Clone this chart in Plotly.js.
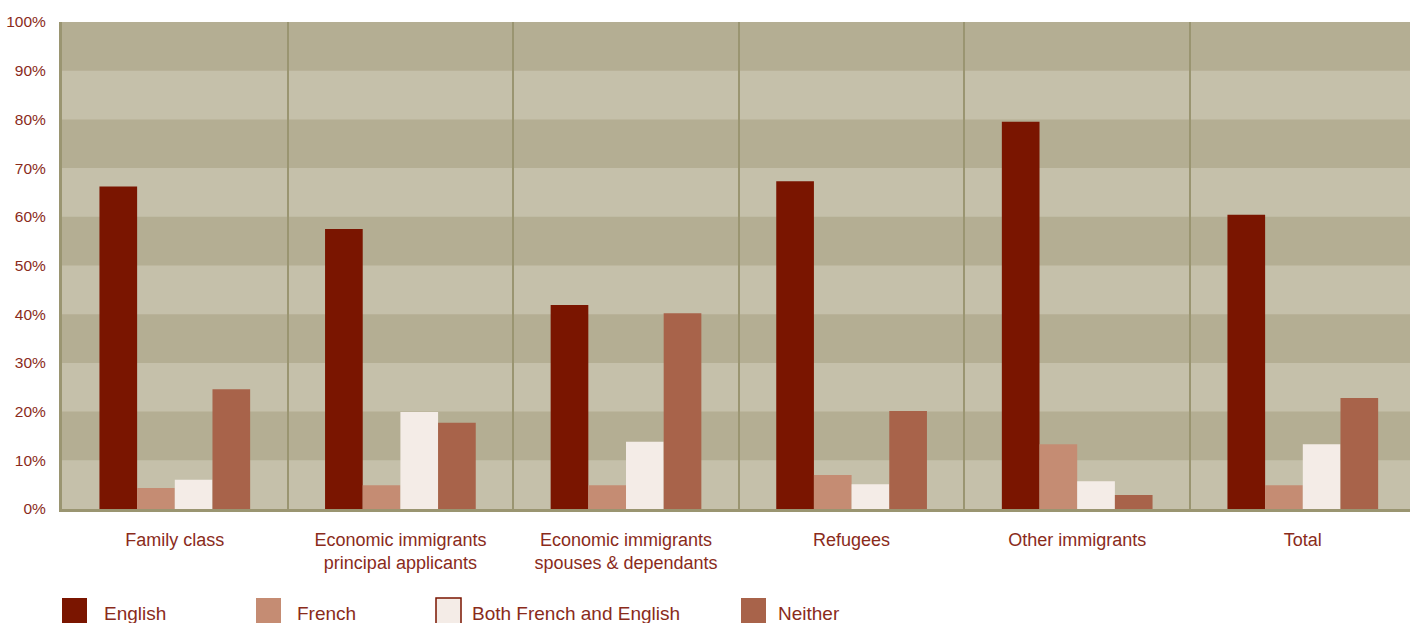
<!DOCTYPE html>
<html>
<head>
<meta charset="utf-8">
<script src="https://cdn.plot.ly/plotly-3.0.1.min.js"></script>
<style>
  html, body { margin: 0; padding: 0; background: #ffffff; overflow: hidden; }
  #chart { width: 1410px; height: 623px; }
</style>
</head>
<body>
<div id="chart"></div>
<script>
// ---- data ----
const categories = [
  "Family class",
  "Economic immigrants<br>principal applicants",
  "Economic immigrants<br>spouses & dependants",
  "Refugees",
  "Other immigrants",
  "Total"
];
const seriesNames = ["English", "French", "Both French and English", "Neither"];
const english = [66.2, 57.5, 41.9, 67.3, 79.5, 60.4];
const french  = [4.3, 4.9, 4.9, 7.0, 13.3, 4.9];
const both    = [6.0, 19.9, 13.8, 5.1, 5.7, 13.3];
const neither = [24.6, 17.7, 40.2, 20.1, 2.9, 22.8];
const yTickValues = [0, 10, 20, 30, 40, 50, 60, 70, 80, 90, 100];

// ---- styling ----
const seriesColors = ["#7a1500", "#c58c73", "#f4ece7", "#a8634a"];
const textColor = "#8a2b1b";
const stripeDark = "#b4ae93";
const stripeLight = "#c5c0aa";
const frameColor = "#9a9571";
const fontFamily = "'Liberation Sans', Arial, sans-serif";

const W = 1410, H = 623;
const M = { l: 62, r: 0, t: 22, b: 114 };
const plotW = W - M.l - M.r, plotH = H - M.t - M.b;
const catWidthPx = 225.6;

const seriesValues = [english, french, both, neither];
const traces = seriesValues.map((vals, i) => ({
  type: "bar",
  name: seriesNames[i],
  x: categories,
  y: vals,
  marker: { color: seriesColors[i], line: { width: 0 } },
  hoverinfo: "x+y+name",
  showlegend: false
}));

// horizontal stripes (light bands on dark background)
const shapes = [];
for (let k = 0; k < yTickValues.length - 1; k++) {
  if (k % 2 === 0) {
    shapes.push({
      type: "rect", layer: "below",
      xref: "paper", yref: "y",
      x0: 0, x1: 1, y0: yTickValues[k], y1: yTickValues[k + 1],
      fillcolor: stripeLight, line: { width: 0 }
    });
  }
}

// custom legend (swatches + labels)
const legendSwatchPx = [62, 256, 436, 741];
const legendTextPx = [102, 295, 470, 776];
const annotations = [];
seriesNames.forEach((name, i) => {
  const x0 = (legendSwatchPx[i] - M.l) / plotW;
  const x1 = (legendSwatchPx[i] + 25 - M.l) / plotW;
  shapes.push({
    type: "rect", xref: "paper", yref: "paper",
    x0: x0, x1: x1,
    y0: (M.t + plotH - 630) / plotH, y1: (M.t + plotH - 598) / plotH,
    fillcolor: seriesColors[i],
    line: { width: i === 2 ? 1.5 : 0, color: seriesColors[0] }
  });
  annotations.push({
    xref: "paper", yref: "paper",
    x: (legendTextPx[i] - M.l) / plotW,
    y: (M.t + plotH - 613) / plotH,
    xanchor: "left", yanchor: "middle",
    text: name, showarrow: false,
    font: { family: fontFamily, size: 19, color: textColor }
  });
});

const layout = {
  width: W, height: H,
  margin: M,
  paper_bgcolor: "#ffffff",
  plot_bgcolor: stripeDark,
  barmode: "group",
  bargap: 0.332,
  bargroupgap: 0,
  showlegend: false,
  xaxis: {
    type: "category",
    range: [-0.5, -0.5 + plotW / catWidthPx],
    tickson: "boundaries",
    showgrid: true, gridcolor: frameColor, gridwidth: 2,
    showline: true, linecolor: frameColor, linewidth: 3,
    ticks: "", ticklabelstandoff: 12,
    tickfont: { family: fontFamily, size: 18, color: textColor },
    zeroline: false, fixedrange: true
  },
  yaxis: {
    range: [0, 100],
    tickvals: yTickValues,
    ticktext: yTickValues.map(v => v + "%"),
    showgrid: false, zeroline: false,
    showline: true, linecolor: frameColor, linewidth: 3,
    ticks: "", ticklabelstandoff: 10,
    tickfont: { family: fontFamily, size: 15.5, color: textColor },
    fixedrange: true
  },
  shapes: shapes,
  annotations: annotations
};

Plotly.newPlot("chart", traces, layout, { displayModeBar: false, staticPlot: true });
</script>
</body>
</html>
